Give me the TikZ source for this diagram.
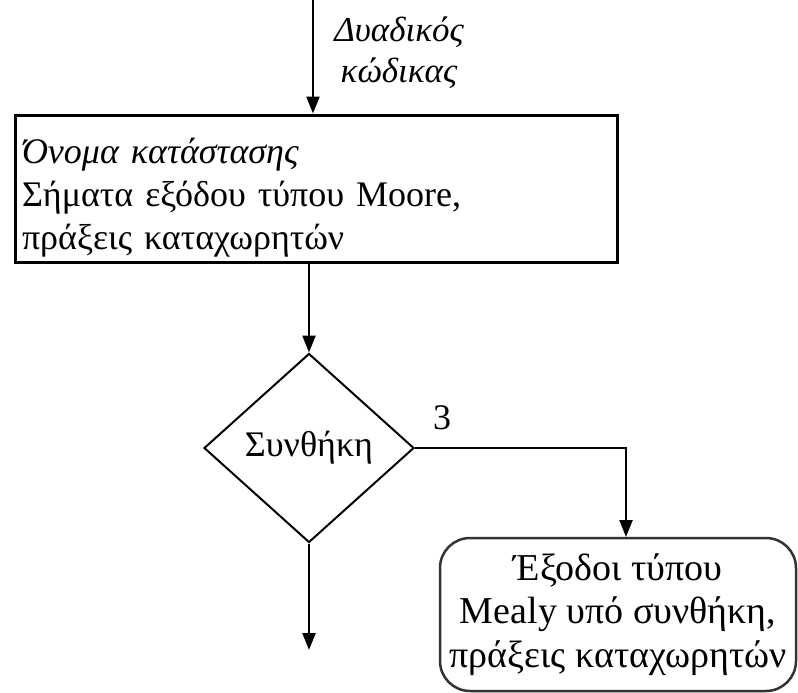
\documentclass[tikz,border=0pt]{standalone}
\usepackage{fontspec}
\setmainfont{Liberation Serif}
\usetikzlibrary{shapes.geometric,arrows.meta}
\begin{document}
\begin{tikzpicture}[x=1pt,y=-1pt,
  txt/.style={font=\fontsize{36}{43}\selectfont},
  conn/.style={line width=2.4pt,-{Triangle[length=17pt,width=13pt]}},
  statebox/.style={txt,draw,line width=3pt,minimum width=602pt,minimum height=147pt,
    text width=588pt,inner xsep=7pt,align=left},
  cond/.style={txt,draw,diamond,line width=2pt,minimum width=210pt,minimum height=189pt,inner sep=0pt},
  mealy/.style={font=\fontsize{38}{43.5}\selectfont,draw=black!80,line width=2.5pt,rounded corners=30pt,
    minimum width=356pt,minimum height=153pt,align=center,inner sep=0pt}]
\useasboundingbox (0,0) rectangle (798,693);

% state box with name, Moore outputs and register operations
\node[statebox] (state) at (316,188.5)
  {\rule{0pt}{44pt}\textit{Όνομα κατάστασης}\\Σήματα εξόδου τύπου Moore,\\πράξεις καταχωρητών};

% entry code label and incoming arrow
\coordinate (entry) at (313,0);
\node[align=center,font=\itshape\fontsize{35}{41}\selectfont] (code) at (399,53)
  {Δυαδικός\\κώδικας};
\draw[conn] (entry) -- (entry |- state.north);

% decision
\node[cond] (dec) at (309,448) {Συνθήκη};
\draw[conn] (state.south -| dec.north) -- (dec.north);

% conditional Mealy output box
\node[mealy] (out) at (618,614.5)
  {Έξοδοι τύπου\\Mealy υπό συνθήκη,\\πράξεις καταχωρητών};
\coordinate (outin) at (626,537);
\draw[conn] (dec.east) -| (outin);
\node[txt] (three) at (442,418) {3};

% exit path
\coordinate (exit) at (309,650);
\draw[conn] (dec.south) -- (exit);
\end{tikzpicture}
\end{document}
